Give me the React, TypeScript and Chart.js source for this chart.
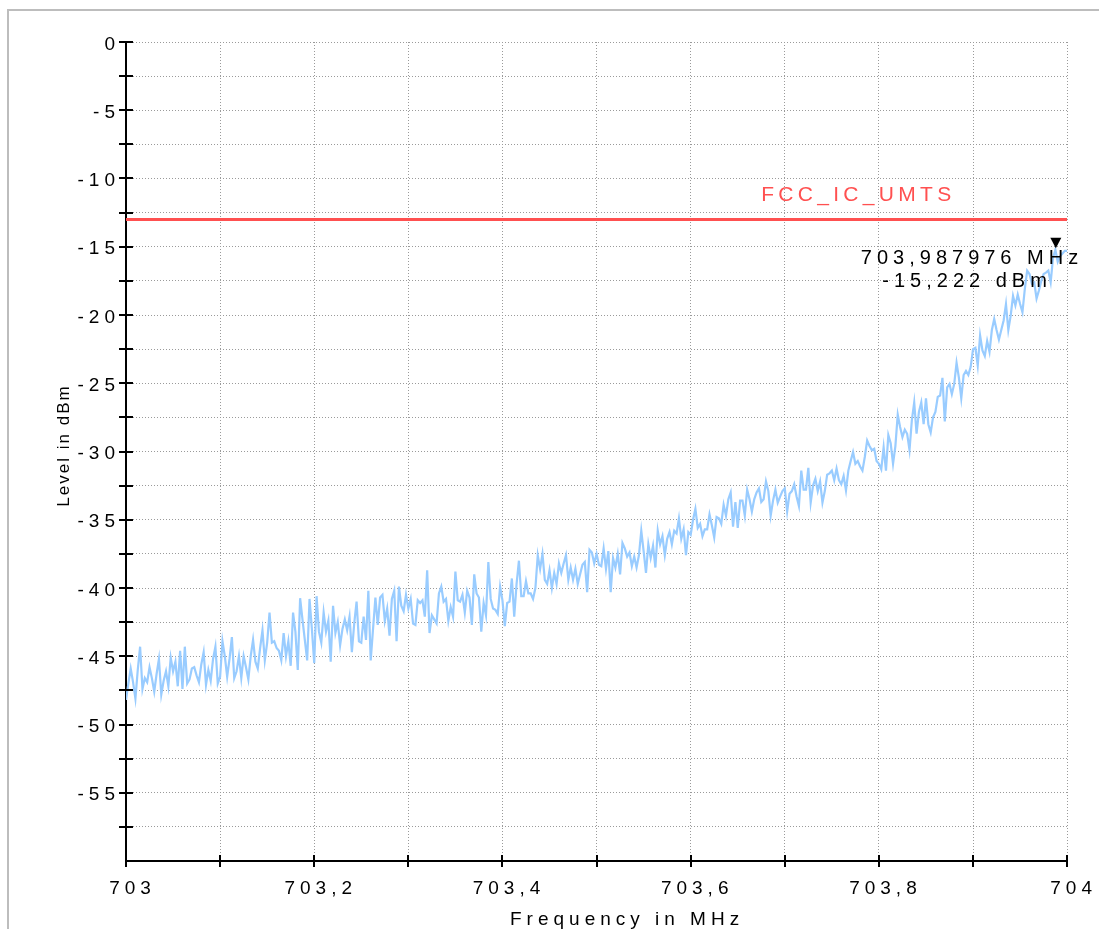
import React, { useEffect, useRef } from 'react';
import { Chart, registerables } from 'chart.js';

Chart.register(...registerables);

// Sweep settings (analyzer span)
const START_FREQ = 703;
const STOP_FREQ = 704;
const SWEEP_STEP = 0.0025;

const levels: number[] = [
  -48.2, -47.0, -45.9, -46.9, -48.1, -46.0, -44.3, -47.4, -46.6, -46.9,
  -45.8, -46.6, -47.6, -46.3, -45.2, -47.8, -46.8, -46.1, -47.2, -45.1,
  -46.1, -45.4, -47.2, -44.6, -47.4, -44.3, -47.0, -46.7, -45.9, -45.8,
  -46.4, -46.9, -45.6, -44.7, -47.1, -46.0, -46.8, -45.2, -44.3, -47.0,
  -46.5, -43.9, -45.0, -46.5, -45.2, -43.6, -46.6, -46.1, -45.0, -46.6,
  -45.0, -45.8, -46.7, -45.0, -43.8, -45.4, -45.9, -44.4, -43.1, -45.3,
  -44.0, -41.8, -44.0, -43.9, -44.4, -44.6, -45.3, -43.3, -45.0, -43.9,
  -45.7, -41.8, -43.2, -46.0, -40.75, -42.3, -43.8, -45.3, -40.8, -43.0,
  -45.5, -40.6, -43.2, -44.0, -41.8, -43.2, -42.4, -45.4, -41.3, -43.3,
  -42.5, -44.2, -43.0, -42.3, -43.1, -42.1, -44.7, -42.6, -41.0, -43.9,
  // 703.25 .. 703.50
  -44.0, -42.1, -43.8, -40.2, -45.3, -43.0, -40.7, -42.7, -40.7, -40.5,
  -42.4, -41.5, -43.5, -40.8, -40.2, -43.9, -39.9, -41.3, -41.7, -40.5,
  -41.5, -40.8, -42.6, -42.7, -40.9, -41.1, -40.9, -42.1, -38.7, -43.3,
  -42.0, -42.3, -42.6, -40.4, -39.9, -41.0, -40.8, -42.4, -41.4, -42.1,
  -38.8, -40.9, -41.0, -40.5, -41.8, -40.2, -40.7, -42.7, -39.0, -40.4,
  -40.7, -43.2, -41.1, -42.0, -38.1, -40.8, -41.5, -41.6, -41.9, -39.9,
  -40.9, -42.8, -41.1, -41.0, -39.3, -42.1, -39.7, -38.0, -40.6, -40.6,
  -39.5, -40.4, -40.4, -40.8, -40.0, -37.6, -38.6, -37.5, -39.4, -39.7,
  -38.7, -40.0, -38.9, -39.7, -38.2, -38.9, -38.2, -37.6, -39.4, -38.5,
  -39.4, -38.6, -39.7, -39.0, -38.3, -38.1, -40.3, -37.2, -37.4, -38.2,
  -37.5, -38.3,
  // 703.505 .. 703.755
  -38.4, -37.1, -38.6, -37.3, -40.3, -37.8, -38.5, -37.5, -39.0, -36.7,
  -37.1, -37.7, -37.4, -38.4, -37.7, -38.5, -37.6, -35.8, -37.3, -38.9,
  -36.8, -37.8, -36.9, -38.5, -35.8, -36.8, -36.2, -37.6, -36.4, -35.9,
  -36.8, -35.8, -36.0, -34.9, -36.4, -35.7, -37.6, -35.9, -36.1, -35.0,
  -34.2, -35.6, -35.3, -36.2, -35.7, -35.7, -34.6, -35.4, -36.3, -34.8,
  -34.9, -35.3, -33.9, -34.7, -33.5, -33.0, -35.5, -33.7, -35.6, -33.6,
  -33.6, -34.7, -32.8, -33.5, -34.4, -33.5, -33.0, -32.7, -33.7, -33.5,
  -32.2, -32.9, -34.7, -33.6, -32.8, -33.75, -33.3, -32.9, -32.7, -34.4,
  -33.1, -32.9, -32.4, -33.3, -34.0, -31.4, -32.8, -32.8, -31.2, -33.75,
  -32.5, -32.0, -32.9, -32.2, -33.75, -32.9, -31.7, -31.6, -31.4, -32.1,
  -31.25,
  // 703.7575 .. 704.0
  -32.1, -32.4, -31.8, -32.85, -31.4, -30.7, -30.05, -30.9, -30.7, -31.1,
  -31.4, -30.4, -29.2, -29.6, -29.9, -29.8, -30.7, -30.9, -31.3, -29.7,
  -31.4, -28.8, -29.4, -30.9, -29.6, -27.3, -28.2, -28.95, -28.4, -28.7,
  -29.9, -27.7, -26.4, -28.7, -27.1, -26.4, -28.0, -26.1, -28.0, -28.6,
  -27.5, -27.1, -26.0, -25.9, -24.6, -27.8, -25.3, -25.05, -25.8, -25.05,
  -23.5, -24.6, -26.1, -24.4, -24.1, -24.4, -23.8, -22.5, -22.4, -23.7,
  -21.5, -22.6, -23.0, -21.9, -22.7, -21.1, -20.3, -21.1, -21.8, -21.1,
  -20.4, -19.2, -21.1, -20.05, -18.6, -19.3, -18.5, -19.2, -19.8, -18.1,
  -16.75, -17.0, -17.7, -17.6, -18.8, -18.2, -17.5, -17.0, -16.9, -16.75,
  -17.6, -15.8, -15.222, -16.1, -15.7, -15.5, -15.3, -15.3,
];

const freqs: number[] = levels.map((_, i) => +(START_FREQ + i * SWEEP_STEP).toFixed(4));

// Limit line
const limitName = 'FCC_IC_UMTS';
const limitFreqs = [703, 704];
const limitLevels = [-13, -13];

// Marker
const markerFreq = 703.987976;
const markerLevel = -15.222;
const markerLines = ['703,987976 MHz', '-15,222 dBm'];

// Axes
const yMin = -60;
const yMax = 0;
const xTitle = 'Frequency in MHz';
const yTitle = 'Level in dBm';

const FONT = "'Liberation Sans', Arial, sans-serif";
const FONT_SIZE = 19;
const SPACING = '5px';
const TRACE_COLOR = '#99ccff';
const LIMIT_COLOR = '#ff5050';

const decoPlugin = {
  id: 'deco',
  beforeDraw(chart: any) {
    (chart.ctx as any).letterSpacing = SPACING;
  },
  afterDraw(chart: any) {
    const { ctx, chartArea: a, scales } = chart;
    const x = scales.x;
    const y = scales.y;
    ctx.save();
    // tick marks crossing the axes
    ctx.strokeStyle = '#000';
    ctx.lineWidth = 2;
    ctx.beginPath();
    x.ticks.forEach((t: any) => {
      const px = Math.round(x.getPixelForValue(t.value));
      ctx.moveTo(px, a.bottom - 6);
      ctx.lineTo(px, a.bottom + 6);
    });
    y.ticks.forEach((t: any) => {
      if (t.value <= yMin) return;
      const py = Math.round(y.getPixelForValue(t.value));
      ctx.moveTo(a.left - 7, py);
      ctx.lineTo(a.left + 7, py);
    });
    ctx.stroke();

    // limit label
    (ctx as any).letterSpacing = '4.3px';
    ctx.font = `21px ${FONT}`;
    ctx.textAlign = 'left';
    ctx.textBaseline = 'middle';
    ctx.fillStyle = LIMIT_COLOR;
    ctx.fillText(limitName, a.right - 306, y.getPixelForValue(limitLevels[0]) - 24);

    // marker
    const mx = x.getPixelForValue(markerFreq);
    const my = y.getPixelForValue(markerLevel);
    ctx.fillStyle = '#000';
    ctx.beginPath();
    ctx.moveTo(mx - 5.5, my - 12);
    ctx.lineTo(mx + 5.5, my - 12);
    ctx.lineTo(mx, my - 1.5);
    ctx.closePath();
    ctx.fill();
    (ctx as any).letterSpacing = '5px';
    ctx.font = `20px ${FONT}`;
    ctx.fillText(markerLines[0], mx - 195, my + 8.5);
    ctx.fillText(markerLines[1], mx - 173.5, my + 31.5);

    // axis titles
    (ctx as any).letterSpacing = SPACING;
    ctx.font = `${FONT_SIZE}px ${FONT}`;
    ctx.textBaseline = 'alphabetic';
    ctx.fillText(xTitle, a.left + 384, 925);

    ctx.translate(69, (a.top + a.bottom) / 2 - 5);
    ctx.rotate(-Math.PI / 2);
    (ctx as any).letterSpacing = '2px';
    ctx.font = `17px ${FONT}`;
    ctx.textAlign = 'center';
    ctx.fillText(yTitle, 1, 0);
    ctx.restore();
  },
};

export default function App() {
  const canvasRef = useRef<HTMLCanvasElement | null>(null);

  useEffect(() => {
    const canvas = canvasRef.current;
    if (!canvas) return;
    const chart = new Chart(canvas, {
      type: 'line',
      data: {
        datasets: [
          {
            label: limitName,
            data: limitFreqs.map((f, i) => ({ x: f, y: limitLevels[i] })),
            borderColor: LIMIT_COLOR,
            borderWidth: 3,
            pointRadius: 0,
            fill: false,
          },
          {
            label: 'Trace',
            data: freqs.map((f, i) => ({ x: f, y: levels[i] })),
            borderColor: TRACE_COLOR,
            borderWidth: 2.2,
            pointRadius: 0,
            tension: 0,
            fill: false,
          },
        ],
      },
      options: {
        animation: false,
        responsive: false,
        events: [],
        layout: { padding: { top: 42, right: 30, left: 0, bottom: 0 } },
        plugins: {
          legend: { display: false },
          tooltip: { enabled: false },
          title: { display: false },
        },
        scales: {
          x: {
            type: 'linear',
            min: START_FREQ,
            max: STOP_FREQ,
            ticks: {
              stepSize: 0.1,
              autoSkip: false,
              maxRotation: 0,
              color: '#000',
              font: { family: FONT, size: FONT_SIZE },
              padding: 16,
              labelOffset: 6.5,
              callback: (v: any) => {
                const k = Math.round((Number(v) - START_FREQ) * 10);
                if (k % 2 !== 0) return '';
                return (START_FREQ + k / 10).toFixed(1).replace(/\.0$/, '').replace('.', ',');
              },
            },
            grid: { color: '#9a9a9a', lineWidth: 1, drawTicks: false },
            border: { display: true, color: '#000', width: 2, dash: [1, 2] },
            afterFit: (s: any) => {
              s.height = 68;
            },
          },
          y: {
            min: yMin,
            max: yMax,
            ticks: {
              stepSize: 2.5,
              autoSkip: false,
              color: '#000',
              font: { family: FONT, size: FONT_SIZE },
              padding: 6,
              labelOffset: 2.5,
              callback: (v: any) => {
                const n = Number(v);
                if (n <= yMin) return '';
                return Math.abs(n % 5) < 1e-6 ? String(n) : '';
              },
            },
            grid: { color: '#9a9a9a', lineWidth: 1, drawTicks: false },
            border: { display: true, color: '#000', width: 2, dash: [1, 2] },
            afterFit: (s: any) => {
              s.width = 126;
            },
          },
        },
      },
      plugins: [decoPlugin],
    } as any);
    return () => chart.destroy();
  }, []);

  return (
    <>
      <div
        style={{
          position: 'fixed',
          left: 7,
          top: 9,
          width: 1200,
          height: 1000,
          borderTop: '2px solid #bdbdbd',
          borderLeft: '2px solid #bdbdbd',
          boxSizing: 'border-box',
        }}
      />
      <div style={{ position: 'fixed', left: 0, top: 0, width: 1099, height: 929 }}>
        <canvas ref={canvasRef} width={1099} height={929} style={{ display: 'block' }} />
      </div>
    </>
  );
}
